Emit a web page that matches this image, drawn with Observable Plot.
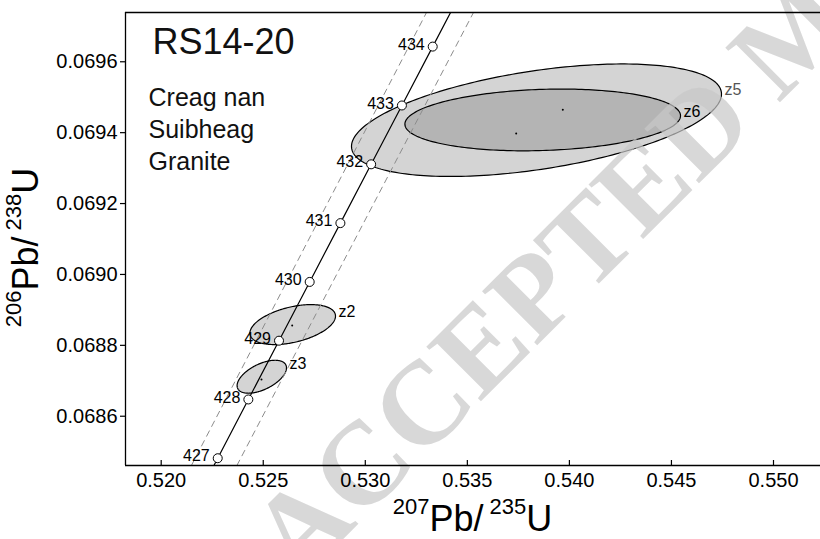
<!DOCTYPE html>
<html><head><meta charset="utf-8">
<script src="https://cdn.jsdelivr.net/npm/d3@7"></script>
<script src="https://cdn.jsdelivr.net/npm/@observablehq/plot@0.6"></script>
<style>body{margin:0;background:#fff;} #chart svg{display:block;}</style>
</head><body><div id="chart"></div>
<script>
// ---- axis ticks / domains ----
const xTicks = [0.520, 0.525, 0.530, 0.535, 0.540, 0.545, 0.550];
const yTicks = [0.0686, 0.0688, 0.0690, 0.0692, 0.0694, 0.0696];
const xDomain = [0.518251, 0.552303];
const yDomain = [0.068461, 0.069739];

// ---- concordia (age ticks, Ma) ----
const concAges = [427, 428, 429, 430, 431, 432, 433, 434];
const concX = [0.522770, 0.524270, 0.525772, 0.527275, 0.528780, 0.530286, 0.531794, 0.533303];
const concY = [0.0684815, 0.0686473, 0.0688131, 0.0689789, 0.0691448, 0.0693107, 0.0694767, 0.0696428];
// concordia curve continued beyond the frame (426 and 435 Ma)
const concLineX = [0.521271, ...concX, 0.534814];
const concLineY = [0.0683157, ...concY, 0.0698090];

// ---- decay-constant error envelope (dashed) ----
const envY = [0.068461, 0.069739];
const envLowerX = [0.521480, 0.532999];
const envUpperX = [0.523709, 0.535301];

// ---- analyses: 2-sigma error ellipses ----
const ellNames = ["z5", "z6", "z2", "z3"];
const ellCX = [0.538388, 0.538692, 0.526443, 0.524929];
const ellCY = [0.0694351, 0.0694359, 0.0688585, 0.0687114];
const ellSX = [0.009064, 0.006752, 0.002097, 0.001210];
const ellSY = [0.0001587, 0.0000871, 0.0000564, 0.0000465];
const ellRho = [0.465, 0.136, 0.425, 0.54];
// analysis points (small dots)
const dotX = [0.539677, 0.537393, 0.526418, 0.524914];
const dotY = [0.0694647, 0.0693979, 0.0688557, 0.0687035];

// ---- annotation text ----
const sampleName = "RS14-20";
const unitName = "Creag nan\nSuibheag\nGranite";
const watermark = "ACCEPTED MANUSCRIPT";
const watermarkAt = [0.525434, 0.0682033];

// ---- styles ----
const FONT = "'Liberation Sans', Arial, Helvetica, sans-serif";
const ellFill = {z5: "#d4d4d4", z6: "#b4b4b4", z2: "#d4d4d4", z3: "#d4d4d4"};
const ellLabelColor = {z5: "#555555", z6: "#000", z2: "#000", z3: "#000"};

function ellipsePoints(i) {
  const pts = [];
  const s = Math.sqrt(1 - ellRho[i] * ellRho[i]);
  for (let k = 0; k <= 240; k++) {
    const t = 2 * Math.PI * k / 240;
    pts.push({
      x: ellCX[i] + ellSX[i] * Math.cos(t),
      y: ellCY[i] + ellSY[i] * (ellRho[i] * Math.cos(t) + s * Math.sin(t))
    });
  }
  return pts;
}

const conc = concAges.map((a, i) => ({age: a, x: concX[i], y: concY[i]}));
const concLine = concLineX.map((x, i) => ({x, y: concLineY[i]}));
const envLower = envY.map((y, i) => ({x: envLowerX[i], y}));
const envUpper = envY.map((y, i) => ({x: envUpperX[i], y}));
const ellLabels = ellNames.map((n, i) => ({name: n, x: ellCX[i] + ellSX[i], y: ellCY[i] + ellSY[i] * ellRho[i]}));
const dots = dotX.map((x, i) => ({x, y: dotY[i]}));

const marks = [];
ellNames.forEach((n, i) => {
  marks.push(Plot.line(ellipsePoints(i), {x: "x", y: "y", fill: ellFill[n], stroke: "#000", strokeWidth: 1.2, clip: true}));
});
marks.push(
  Plot.line(envLower, {x: "x", y: "y", stroke: "#8c8c8c", strokeWidth: 1, strokeDasharray: "6,5", clip: true}),
  Plot.line(envUpper, {x: "x", y: "y", stroke: "#8c8c8c", strokeWidth: 1, strokeDasharray: "6,5", clip: true}),
  Plot.line(concLine, {x: "x", y: "y", stroke: "#000", strokeWidth: 1.2, clip: true}),
  Plot.dot(conc, {x: "x", y: "y", r: 4.5, fill: "#fff", stroke: "#000", strokeWidth: 1}),
  Plot.text(conc, {x: "x", y: "y", text: d => String(d.age), textAnchor: "end", dx: -8, dy: -2, fontSize: 16, fill: "#000"}),
  Plot.dot(dots, {x: "x", y: "y", r: 1, fill: "#000", stroke: null}),
  Plot.text(ellLabels, {x: "x", y: "y", text: "name", textAnchor: "start", dx: 3, dy: -4, fontSize: 16, fill: d => ellLabelColor[d.name]}),
  Plot.text([watermark], {x: () => watermarkAt[0], y: () => watermarkAt[1], text: d => d, rotate: -45,
    fontSize: 118, fontWeight: "bold", fontFamily: "'Liberation Serif', 'Times New Roman', serif", fill: "#c8c8c8", fillOpacity: 0.7,
    textAnchor: "start", lineAnchor: "middle"}),
  Plot.ruleX([xDomain[0]], {stroke: "#000", strokeWidth: 1.3}),
  Plot.ruleY(yDomain, {stroke: "#000", strokeWidth: 1.3}),
  Plot.axisY(yTicks, {anchor: "left", tickSize: 5, tickPadding: 3, tickFormat: d => d.toFixed(4), fontSize: 20, label: null, strokeWidth: 1.2}),
  Plot.axisX(xTicks, {anchor: "bottom", tickSize: 5, dy: -5, tickFormat: () => "", label: null, strokeWidth: 1.2}),
  Plot.axisX(xTicks, {anchor: "bottom", tickSize: 0, tickPadding: 7, tickFormat: d => d.toFixed(3), fontSize: 20, label: null}),
  Plot.text([sampleName], {frameAnchor: "top-left", text: d => d, dx: 27, dy: 16, lineAnchor: "top", fontSize: 36, fill: "#111"}),
  Plot.text([unitName], {frameAnchor: "top-left", text: d => d, dx: 23, dy: 71, lineAnchor: "top", lineHeight: 1.27, fontSize: 25, fill: "#111"})
);

const plot = Plot.plot({
  width: 820, height: 539,
  marginLeft: 125, marginRight: 0, marginTop: 12, marginBottom: 74,
  x: {domain: xDomain},
  y: {domain: yDomain},
  style: {fontFamily: FONT, background: "#fff", color: "#000", overflow: "hidden"},
  marks
});
document.getElementById("chart").appendChild(plot);

// axis titles with superscripts
const svg = d3.select(plot);
const xr = plot.scale("x").range, yr = plot.scale("y").range;
const xt = svg.append("text").attr("x", (xr[0] + xr[1]) / 2).attr("y", 531)
  .attr("text-anchor", "middle").attr("font-family", FONT).attr("font-size", 36).attr("fill", "#000");
xt.append("tspan").attr("font-size", 22).attr("dy", -17).text("207");
xt.append("tspan").attr("dy", 17).text("Pb/");
xt.append("tspan").attr("font-size", 22).attr("dy", -17).text("\u00a0235");
xt.append("tspan").attr("dy", 17).text("U");

const ycy = (yr[0] + yr[1]) / 2 + 9;
const yt = svg.append("text").attr("transform", `translate(38,${ycy}) rotate(-90)`)
  .attr("text-anchor", "middle").attr("font-family", FONT).attr("font-size", 36).attr("fill", "#000");
yt.append("tspan").attr("font-size", 22).attr("dy", -17).text("206");
yt.append("tspan").attr("dy", 17).text("Pb/");
yt.append("tspan").attr("font-size", 22).attr("dy", -17).text("\u00a0238");
yt.append("tspan").attr("dy", 17).text("U");
</script>
</body></html>
